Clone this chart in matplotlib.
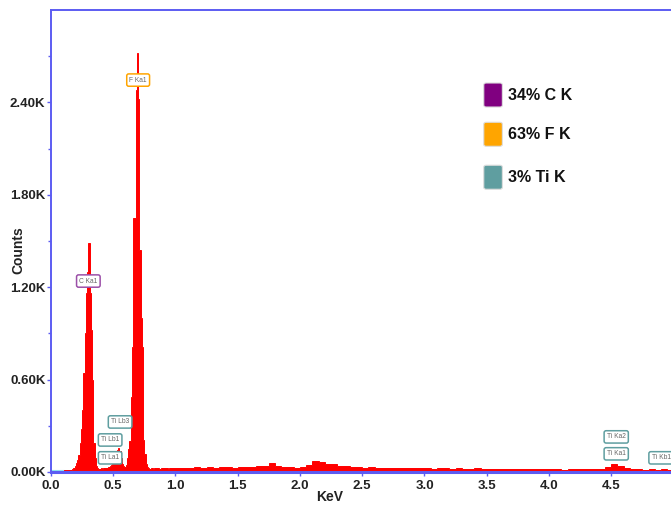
import numpy as np
import matplotlib
matplotlib.use("Agg")
import matplotlib.pyplot as plt
from matplotlib.patches import FancyBboxPatch

plt.rcParams['font.family'] = ['Liberation Sans', 'DejaVu Sans']

# spectrum counts, 10 eV channels from 0.00 to 1.00 keV
counts_low = [
    0, 0, 2, 3, 4, 5, 6, 8, 8, 10,
    12, 10, 14, 12, 15, 13, 16, 18, 25, 40,
    60, 80, 110, 190, 280, 400, 640, 900, 1160, 1300,
    1490, 1160, 920, 600, 190, 90, 40, 25, 22, 20,
    24, 21, 25, 23, 26, 28, 32, 38, 45, 55,
    70, 90, 115, 140, 155, 135, 90, 55, 40, 35,
    45, 90, 150, 200, 490, 810, 1650, 1650, 2480, 2720,
    2420, 1440, 1000, 810, 210, 120, 50, 30, 26, 22,
    28, 24, 20, 27, 23, 25, 29, 22, 26, 24,
    28, 23, 27, 25, 22, 29, 26, 24, 28, 25,
]
# 50 eV channels from 1.00 to 5.00 keV
counts_high = [
    24, 28, 26, 30, 27, 31, 28, 30, 33, 29,
    32, 30, 34, 36, 42, 58, 38, 32, 30, 28,
    30, 45, 72, 68, 55, 50, 42, 36, 32, 30,
    28, 30, 27, 29, 26, 28, 25, 27, 24, 26,
    24, 22, 25, 23, 21, 24, 22, 20, 23, 21,
    20, 22, 19, 21, 18, 20, 19, 17, 20, 18,
    17, 19, 16, 18, 17, 19, 18, 20, 22, 32,
    50, 42, 26, 18, 17, 16, 18, 15, 17, 14,
]
edges = np.concatenate([np.arange(0, 100) * 0.01, 1.0 + np.arange(0, 81) * 0.05])
counts = counts_low + counts_high

legend_labels = ['34% C K', '63% F K', '3% Ti K']
legend_colors = ['#800080', '#FFA500', '#5F9EA0']

# peak tags: text, energy, height of tag, element colour
tags = [
    ('F Ka1', 0.70, 2545, '#FFA500'),
    ('C Ka1', 0.30, 1240, '#9B4FA8'),
    ('Ti Lb3', 0.555, 325, '#5F9EA0'),
    ('Ti Lb1', 0.475, 208, '#5F9EA0'),
    ('Ti La1', 0.475, 92, '#5F9EA0'),
    ('Ti Ka2', 4.54, 228, '#5F9EA0'),
    ('Ti Ka1', 4.54, 118, '#5F9EA0'),
    ('Ti Kb1', 4.90, 92, '#5F9EA0'),
]

fig = plt.figure(figsize=(6.71, 5.08), dpi=100)
ax = fig.add_axes([51/671, 36/508, 620/671, 462/508])

ax.stairs(counts, edges, fill=True, color='red', ec='red', lw=0.7)

ax.set_xlim(0, 4.98)
ax.set_ylim(0, 3000)

blue = '#5c5cf2'
for s in ['left', 'top', 'bottom']:
    ax.spines[s].set_color(blue)
    ax.spines[s].set_linewidth(1.4)
ax.spines['bottom'].set_linewidth(2.2)
ax.spines['right'].set_visible(False)
# light cyan trace along the baseline start
ax.plot([0, 0.1], [8, 8], color='#8fe3f0', lw=1.5)

ax.set_xticks(np.arange(0, 5.0, 0.5))
ax.set_xticklabels(['%.1f' % v for v in np.arange(0, 5.0, 0.5)])
ax.set_yticks([0, 600, 1200, 1800, 2400])
ax.set_yticklabels(['0.00K', '0.60K', '1.20K', '1.80K', '2.40K'])
ax.set_yticks([300, 900, 1500, 2100, 2700], minor=True)
ax.tick_params(axis='both', colors=blue, length=3, width=1, labelcolor='#222222', labelsize=9.5)
ax.tick_params(axis='y', which='minor', colors=blue, length=2.5, width=1)
for lab in ax.get_xticklabels() + ax.get_yticklabels():
    lab.set_fontweight('bold')
ax.tick_params(axis='x', pad=3)
ax.tick_params(axis='y', pad=1)

fig.text(18/671, 1 - 250/508, 'Counts', fontsize=10, fontweight='bold', color='#222222',
         ha='center', va='center', rotation=90)
fig.text(330/671, 1 - 497/508, 'KeV', fontsize=10, fontweight='bold', color='#222222',
         ha='center', va='center')

for text, e, h, col in tags:
    ax.text(e, h, text, fontsize=4.8, color='#666666', ha='center', va='center',
            bbox=dict(boxstyle='round,pad=0.4,rounding_size=0.3', fc='white', ec=col, lw=1.1))

# legend squares
for i, (lab, col) in enumerate(zip(legend_labels, legend_colors)):
    yc = [0.816, 0.731, 0.638][i]
    sq = FancyBboxPatch((0.698, yc - 0.026), 0.030, 0.052, boxstyle='round,pad=0,rounding_size=0.004',
                        transform=ax.transAxes, fc=col, ec='#dddddd', lw=0.8, clip_on=False)
    ax.add_patch(sq)
    ax.text(0.737, yc, lab, transform=ax.transAxes, fontsize=11.5, fontweight='bold',
            color='#111111', ha='left', va='center')

fig.savefig('out.png', dpi=100)
